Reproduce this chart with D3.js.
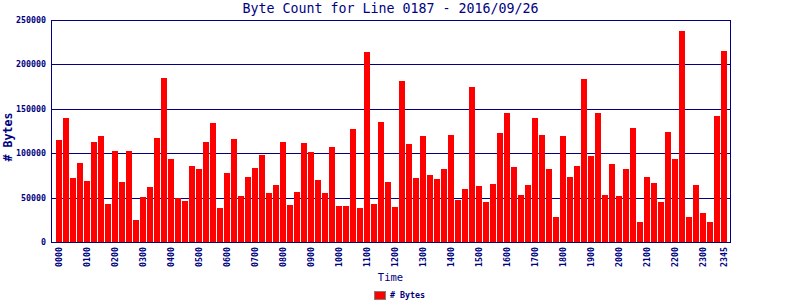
<!DOCTYPE html>
<html>
<head>
<meta charset="utf-8">
<script src="https://cdn.jsdelivr.net/npm/d3@7"></script>
<style>
  body { margin: 0; background: #fff; }
  svg { display: block; }
  text { font-family: "DejaVu Sans Mono", monospace; fill: #000080; }
</style>
</head>
<body>
<div class="chart"></div>
<script>
// 15-minute slots for the day
var times = [];
for (var h = 0; h < 24; h++) {
  ['00', '15', '30', '45'].forEach(function (m) {
    times.push((h < 10 ? '0' : '') + h + m);
  });
}

var bytes = [
  114865, 139640, 72072, 88964, 68694, 112613, 119369, 42793,
  102477, 67568, 102477, 24775, 50676, 61937, 117117, 184685,
  93468, 49550, 46171, 85586, 82207, 112613, 134009, 38288,
  77703, 115991, 51802, 73198, 83333, 97973, 55180, 64189,
  112613, 41667, 56306, 111486, 101351, 69820, 55180, 106982,
  40541, 40541, 127252, 38288, 213964, 42793, 135135, 67568,
  39414, 181306, 110360, 72072, 119369, 75450, 70946, 82207,
  120495, 47297, 59685, 174550, 63063, 45045, 65315, 122748,
  145270, 84459, 52928, 64189, 139640, 120495, 82207, 28153,
  119369, 73198, 85586, 183559, 96847, 145270, 52928, 87838,
  51802, 82207, 128378, 22523, 73198, 66441, 45045, 123874,
  93468, 237613, 28153, 64189, 32658, 22523, 141892, 215090
];

var tickLabels = ['0000', '0100', '0200', '0300', '0400', '0500', '0600', '0700',
  '0800', '0900', '1000', '1100', '1200', '1300', '1400', '1500', '1600', '1700',
  '1800', '1900', '2000', '2100', '2200', '2300', '2345'];

var yTicks = [0, 50000, 100000, 150000, 200000, 250000];

var navy = '#000080';
var plotLeft = 51, plotRight = 730, plotTop = 20, plotBottom = 242;

var svg = d3.select('.chart')
            .append('svg')
            .attr('width', 800)
            .attr('height', 300);

var x = d3.scaleBand()
          .domain(times)
          .range([55.5, 727.5])
          .paddingInner(1 / 7)
          .paddingOuter(1 / 14);

var y = d3.scaleLinear()
          .domain([0, 250000])
          .range([plotBottom, plotTop]);

// grid lines
svg.append('g')
   .selectAll('line')
   .data(yTicks)
   .enter().append('line')
   .attr('x1', plotLeft)
   .attr('x2', plotRight)
   .attr('y1', function (d) { return Math.round(y(d)) + 0.5; })
   .attr('y2', function (d) { return Math.round(y(d)) + 0.5; })
   .attr('stroke', navy)
   .attr('stroke-width', 1);

// bars
svg.append('g')
   .selectAll('rect')
   .data(bytes)
   .enter().append('rect')
   .attr('x', function (d, i) { return Math.round(x(times[i])); })
   .attr('width', Math.round(x.bandwidth()))
   .attr('y', function (d) { return Math.round(y(d)); })
   .attr('height', function (d) { return plotBottom - Math.round(y(d)); })
   .attr('fill', '#ff0000');

// frame
svg.append('rect')
   .attr('x', plotLeft + 0.5)
   .attr('y', plotTop + 0.5)
   .attr('width', plotRight - plotLeft)
   .attr('height', plotBottom - plotTop)
   .attr('fill', 'none')
   .attr('stroke', navy);

// y tick labels
svg.append('g')
   .selectAll('text')
   .data(yTicks)
   .enter().append('text')
   .attr('x', 46)
   .attr('y', function (d) { return y(d); })
   .attr('dy', '0.35em')
   .attr('text-anchor', 'end')
   .style('font-size', '8.3px')
   .style('font-weight', 'bold')
   .text(function (d) { return d; });

// x tick labels
svg.append('g')
   .selectAll('text')
   .data(tickLabels)
   .enter().append('text')
   .attr('transform', function (d) {
     return 'translate(' + (x(d) + x.bandwidth() / 2) + ',247) rotate(-90)';
   })
   .attr('dy', '0.35em')
   .attr('text-anchor', 'end')
   .style('font-size', '8.3px')
   .style('font-weight', 'bold')
   .text(function (d) { return d; });

// title
svg.append('text')
   .attr('x', (plotLeft + plotRight) / 2)
   .attr('y', 13)
   .attr('text-anchor', 'middle')
   .style('font-size', '13.3px')
   .text('Byte Count for Line 0187 - 2016/09/26');

// axis titles
svg.append('text')
   .attr('x', (plotLeft + plotRight) / 2)
   .attr('y', 281)
   .attr('text-anchor', 'middle')
   .style('font-size', '10.5px')
   .text('Time');

svg.append('text')
   .attr('transform', 'translate(11.5,137) rotate(-90)')
   .attr('text-anchor', 'middle')
   .style('font-size', '11.6px')
   .style('font-weight', 'bold')
   .text('# Bytes');

// legend
svg.append('rect')
   .attr('x', 374.5)
   .attr('y', 291.5)
   .attr('width', 11)
   .attr('height', 8)
   .attr('fill', '#ff0000')
   .attr('stroke', '#808080');

svg.append('text')
   .attr('x', 390)
   .attr('y', 298)
   .style('font-size', '8.3px')
   .style('font-weight', 'bold')
   .text('# Bytes');
</script>
</body>
</html>
